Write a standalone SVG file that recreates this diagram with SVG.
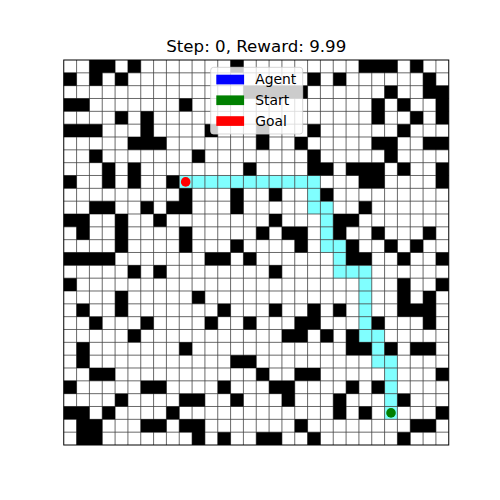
<svg xmlns="http://www.w3.org/2000/svg" width="500" height="500" viewBox="0 0 500 500">
<style>
.wall{fill:#000}
.trail{fill:#80ffff}
.grid{fill:none;stroke:#444;stroke-width:0.8}
.frame{fill:none;stroke:#000;stroke-width:1}
.title{font-family:"DejaVu Sans",sans-serif;font-size:16.67px;fill:#000}
.leg{font-family:"DejaVu Sans",sans-serif;font-size:13.89px;fill:#000}
</style>
<rect width="500" height="500" fill="#fff"/>
<text class="title" x="256.25" y="51.7" text-anchor="middle">Step: 0, Reward: 9.99</text>
<g id="maze" transform="translate(63.75 60) scale(12.8333)">
<rect width="30" height="30" fill="#fff"/>
<path id="trail" class="trail" d="M9 9h11v1h-11zM19 10h1v1h-1zM19 11h2v1h-2zM20 12h1v2h-1zM20 14h2v1h-2zM21 15h1v1h-1zM21 16h3v1h-3zM23 17h1v4h-1zM23 21h2v1h-2zM24 22h1v1h-1zM24 23h2v1h-2zM25 24h1v4h-1z"/>
<path id="gridlines" class="grid" vector-effect="non-scaling-stroke" d="M1 0V30M2 0V30M3 0V30M4 0V30M5 0V30M6 0V30M7 0V30M8 0V30M9 0V30M10 0V30M11 0V30M12 0V30M13 0V30M14 0V30M15 0V30M16 0V30M17 0V30M18 0V30M19 0V30M20 0V30M21 0V30M22 0V30M23 0V30M24 0V30M25 0V30M26 0V30M27 0V30M28 0V30M29 0V30M0 1H30M0 2H30M0 3H30M0 4H30M0 5H30M0 6H30M0 7H30M0 8H30M0 9H30M0 10H30M0 11H30M0 12H30M0 13H30M0 14H30M0 15H30M0 16H30M0 17H30M0 18H30M0 19H30M0 20H30M0 21H30M0 22H30M0 23H30M0 24H30M0 25H30M0 26H30M0 27H30M0 28H30M0 29H30"/>
<path id="walls" class="wall" d="M2 0h2v1h-2zM5 0h1v1h-1zM13 0h1v1h-1zM23 0h3v1h-3zM27 0h1v1h-1z
M0 1h1v1h-1zM2 1h1v1h-1zM4 1h1v1h-1zM19 1h1v1h-1zM21 1h1v1h-1zM28 1h1v1h-1z
M14 2h5v1h-5zM25 2h1v1h-1zM28 2h2v1h-2z
M0 3h2v1h-2zM9 3h1v1h-1zM24 3h1v1h-1zM26 3h1v1h-1zM29 3h1v1h-1z
M4 4h1v1h-1zM6 4h1v1h-1zM24 4h1v1h-1zM27 4h1v1h-1zM29 4h1v1h-1z
M0 5h3v1h-3zM6 5h1v1h-1zM11 5h1v1h-1zM15 5h1v1h-1zM19 5h1v1h-1zM26 5h1v1h-1z
M5 6h3v1h-3zM15 6h1v1h-1zM18 6h1v1h-1zM24 6h2v1h-2zM28 6h2v1h-2z
M2 7h1v1h-1zM10 7h1v1h-1zM19 7h1v1h-1zM25 7h1v1h-1z
M3 8h1v1h-1zM5 8h1v1h-1zM14 8h1v1h-1zM19 8h2v1h-2zM22 8h3v1h-3zM26 8h1v1h-1zM29 8h1v1h-1z
M0 9h1v1h-1zM3 9h1v1h-1zM5 9h1v1h-1zM8 9h1v1h-1zM23 9h2v1h-2zM29 9h1v1h-1z
M9 10h1v1h-1zM13 10h1v1h-1zM16 10h1v1h-1zM20 10h1v1h-1z
M2 11h2v1h-2zM6 11h1v1h-1zM8 11h2v1h-2zM13 11h1v1h-1zM23 11h1v1h-1z
M0 12h2v1h-2zM4 12h1v1h-1zM7 12h1v1h-1zM16 12h1v1h-1zM21 12h2v1h-2z
M1 13h1v1h-1zM4 13h1v1h-1zM9 13h1v1h-1zM15 13h1v1h-1zM17 13h2v1h-2zM21 13h1v1h-1zM24 13h1v1h-1zM28 13h1v1h-1z
M4 14h1v1h-1zM9 14h1v1h-1zM13 14h1v1h-1zM18 14h1v1h-1zM22 14h1v1h-1zM25 14h1v1h-1zM27 14h1v1h-1z
M0 15h4v1h-4zM11 15h2v1h-2zM14 15h1v1h-1zM22 15h2v1h-2zM26 15h1v1h-1zM29 15h1v1h-1z
M5 16h1v1h-1zM7 16h1v1h-1zM16 16h1v1h-1z
M0 17h1v1h-1zM26 17h1v1h-1zM29 17h1v1h-1z
M4 18h1v1h-1zM10 18h1v1h-1zM26 18h1v1h-1zM28 18h1v1h-1z
M1 19h1v1h-1zM4 19h1v1h-1zM12 19h1v1h-1zM16 19h1v1h-1zM19 19h1v1h-1zM21 19h1v1h-1zM26 19h3v1h-3z
M2 20h1v1h-1zM6 20h1v1h-1zM11 20h1v1h-1zM14 20h1v1h-1zM18 20h2v1h-2zM24 20h1v1h-1zM28 20h1v1h-1z
M5 21h1v1h-1zM17 21h2v1h-2zM20 21h1v1h-1zM22 21h1v1h-1z
M1 22h1v1h-1zM9 22h1v1h-1zM22 22h2v1h-2zM25 22h1v1h-1zM27 22h2v1h-2z
M1 23h1v1h-1zM13 23h2v1h-2z
M2 24h2v1h-2zM15 24h1v1h-1zM18 24h2v1h-2zM29 24h1v1h-1z
M0 25h1v1h-1zM6 25h2v1h-2zM12 25h1v1h-1zM16 25h2v1h-2zM22 25h1v1h-1zM24 25h1v1h-1z
M4 26h1v1h-1zM9 26h2v1h-2zM13 26h1v1h-1zM17 26h1v1h-1zM21 26h1v1h-1zM26 26h1v1h-1z
M0 27h2v1h-2zM3 27h1v1h-1zM8 27h1v1h-1zM21 27h1v1h-1zM23 27h1v1h-1zM29 27h1v1h-1z
M1 28h2v1h-2zM6 28h2v1h-2zM9 28h2v1h-2zM18 28h1v1h-1zM27 28h2v1h-2z
M1 29h2v1h-2zM10 29h1v1h-1zM12 29h1v1h-1zM15 29h2v1h-2zM19 29h1v1h-1zM26 29h1v1h-1z"/>
</g>
<rect class="frame" x="63.75" y="60" width="385" height="385"/>
<g id="goal"><circle cx="185.67" cy="181.92" r="4.8" fill="#ff0000"/></g>
<g id="start"><circle cx="391" cy="412.9" r="4.8" fill="#008000"/></g>
<g id="legend">
<rect x="210.7" y="67.3" width="92" height="66.7" rx="2.8" fill="#fff" fill-opacity="0.8" stroke="#ccc" stroke-opacity="0.8" stroke-width="1"/>
<rect x="216.3" y="74.7" width="27.8" height="9.7" fill="#0000ff"/>
<rect x="216.3" y="95.4" width="27.8" height="9.7" fill="#008000"/>
<rect x="216.3" y="116.2" width="27.8" height="9.7" fill="#ff0000"/>
<text class="leg" x="255.2" y="84.4">Agent</text>
<text class="leg" x="255.2" y="105.1">Start</text>
<text class="leg" x="255.2" y="125.9">Goal</text>
</g>
</svg>
